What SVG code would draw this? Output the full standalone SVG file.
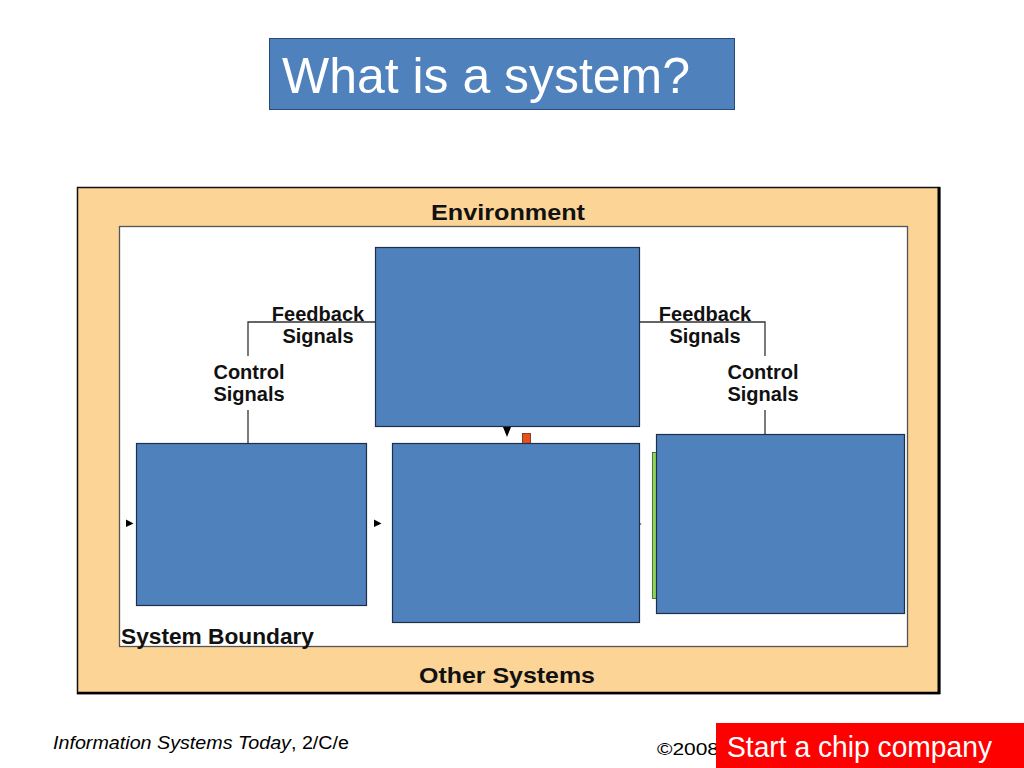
<svg xmlns="http://www.w3.org/2000/svg" width="1024" height="768" viewBox="0 0 1024 768">
<style>
.blue{fill:#4f81bd;stroke:#1f2f4a;stroke-width:1.2}
.lbl{font-family:"Liberation Sans",Arial,sans-serif;font-weight:bold;font-size:20px;fill:#111;text-anchor:middle}
.big{font-family:"Liberation Sans",Arial,sans-serif;font-weight:bold;font-size:22px;fill:#111}
.conn{stroke:#333;stroke-width:1.3;fill:none}
.arr{fill:#000}
</style>
<rect width="1024" height="768" fill="#fff"/>
<g id="title">
<rect x="269.5" y="38.5" width="465" height="71" fill="#4f81bd" stroke="#2a4a7a"/>
<text x="282" y="93" font-family="Liberation Sans,Arial,sans-serif" font-size="50" fill="#fff" textLength="408" lengthAdjust="spacingAndGlyphs">What is a system?</text>
</g>
<g id="environment">
<rect x="77.5" y="187.5" width="862" height="506" fill="#fbd496" stroke="#111" stroke-width="1.5"/>
<line x1="939" y1="187" x2="939" y2="694" stroke="#000" stroke-width="3"/>
<line x1="77" y1="693" x2="940" y2="693" stroke="#000" stroke-width="2.5"/>
<text class="big" x="431" y="220" textLength="154" lengthAdjust="spacingAndGlyphs">Environment</text>
<text class="big" x="419" y="683" textLength="176" lengthAdjust="spacingAndGlyphs">Other Systems</text>
</g>
<g id="boundary">
<rect x="119.5" y="226.5" width="788" height="420" fill="#fff" stroke="#555" stroke-width="1.3"/>
<text class="big" x="121" y="644" textLength="193" lengthAdjust="spacingAndGlyphs">System Boundary</text>
</g>
<g id="connectors">
<polyline class="conn" points="375,322 248,322 248,356"/>
<line class="conn" x1="248" y1="410" x2="248" y2="443"/>
<polyline class="conn" points="640,322 765,322 765,356"/>
<line class="conn" x1="765" y1="410" x2="765" y2="434"/>
<polygon class="arr" points="126,519.5 133.5,523.5 126,527"/>
<polygon class="arr" points="374,519.5 381.5,523.5 374,527"/>
<polygon class="arr" points="503,427 511,427 507,437"/>
<circle cx="640.5" cy="524" r="0.8" fill="#555"/>
<text class="lbl" x="318" y="321">Feedback</text>
<text class="lbl" x="318" y="343">Signals</text>
<text class="lbl" x="249" y="379">Control</text>
<text class="lbl" x="249" y="401">Signals</text>
<text class="lbl" x="705" y="321">Feedback</text>
<text class="lbl" x="705" y="343">Signals</text>
<text class="lbl" x="763" y="379">Control</text>
<text class="lbl" x="763" y="401">Signals</text>
</g>
<g id="node-top"><rect class="blue" x="375.5" y="247.5" width="264" height="179"/></g>
<g id="node-orange"><rect x="522.5" y="433.5" width="8" height="10" fill="#e8501a" stroke="#6a2a10" stroke-width="0.8"/></g>
<g id="node-left"><rect class="blue" x="136.5" y="443.5" width="230" height="162"/></g>
<g id="node-middle"><rect class="blue" x="392.5" y="443.5" width="247" height="179"/></g>
<g id="node-green"><rect x="652.5" y="452.5" width="5" height="146" fill="#8ed65a" stroke="#3a5a20" stroke-width="0.8"/></g>
<g id="node-right"><rect class="blue" x="656.5" y="434.5" width="248" height="179"/></g>
<g id="footer">
<text x="53" y="749" font-family="Liberation Sans,Arial,sans-serif" font-size="18" fill="#000" textLength="296" lengthAdjust="spacingAndGlyphs"><tspan font-style="italic">Information Systems Today</tspan>, 2/C/e</text>
<text x="657" y="755" font-family="Liberation Sans,Arial,sans-serif" font-size="17" fill="#000" textLength="62" lengthAdjust="spacingAndGlyphs">©2008</text>
<rect x="716" y="723" width="308" height="45" fill="#ff0000"/>
<text x="727" y="757" font-family="Liberation Sans,Arial,sans-serif" font-size="29" fill="#fff" textLength="265" lengthAdjust="spacingAndGlyphs">Start a chip company</text>
</g>
</svg>
